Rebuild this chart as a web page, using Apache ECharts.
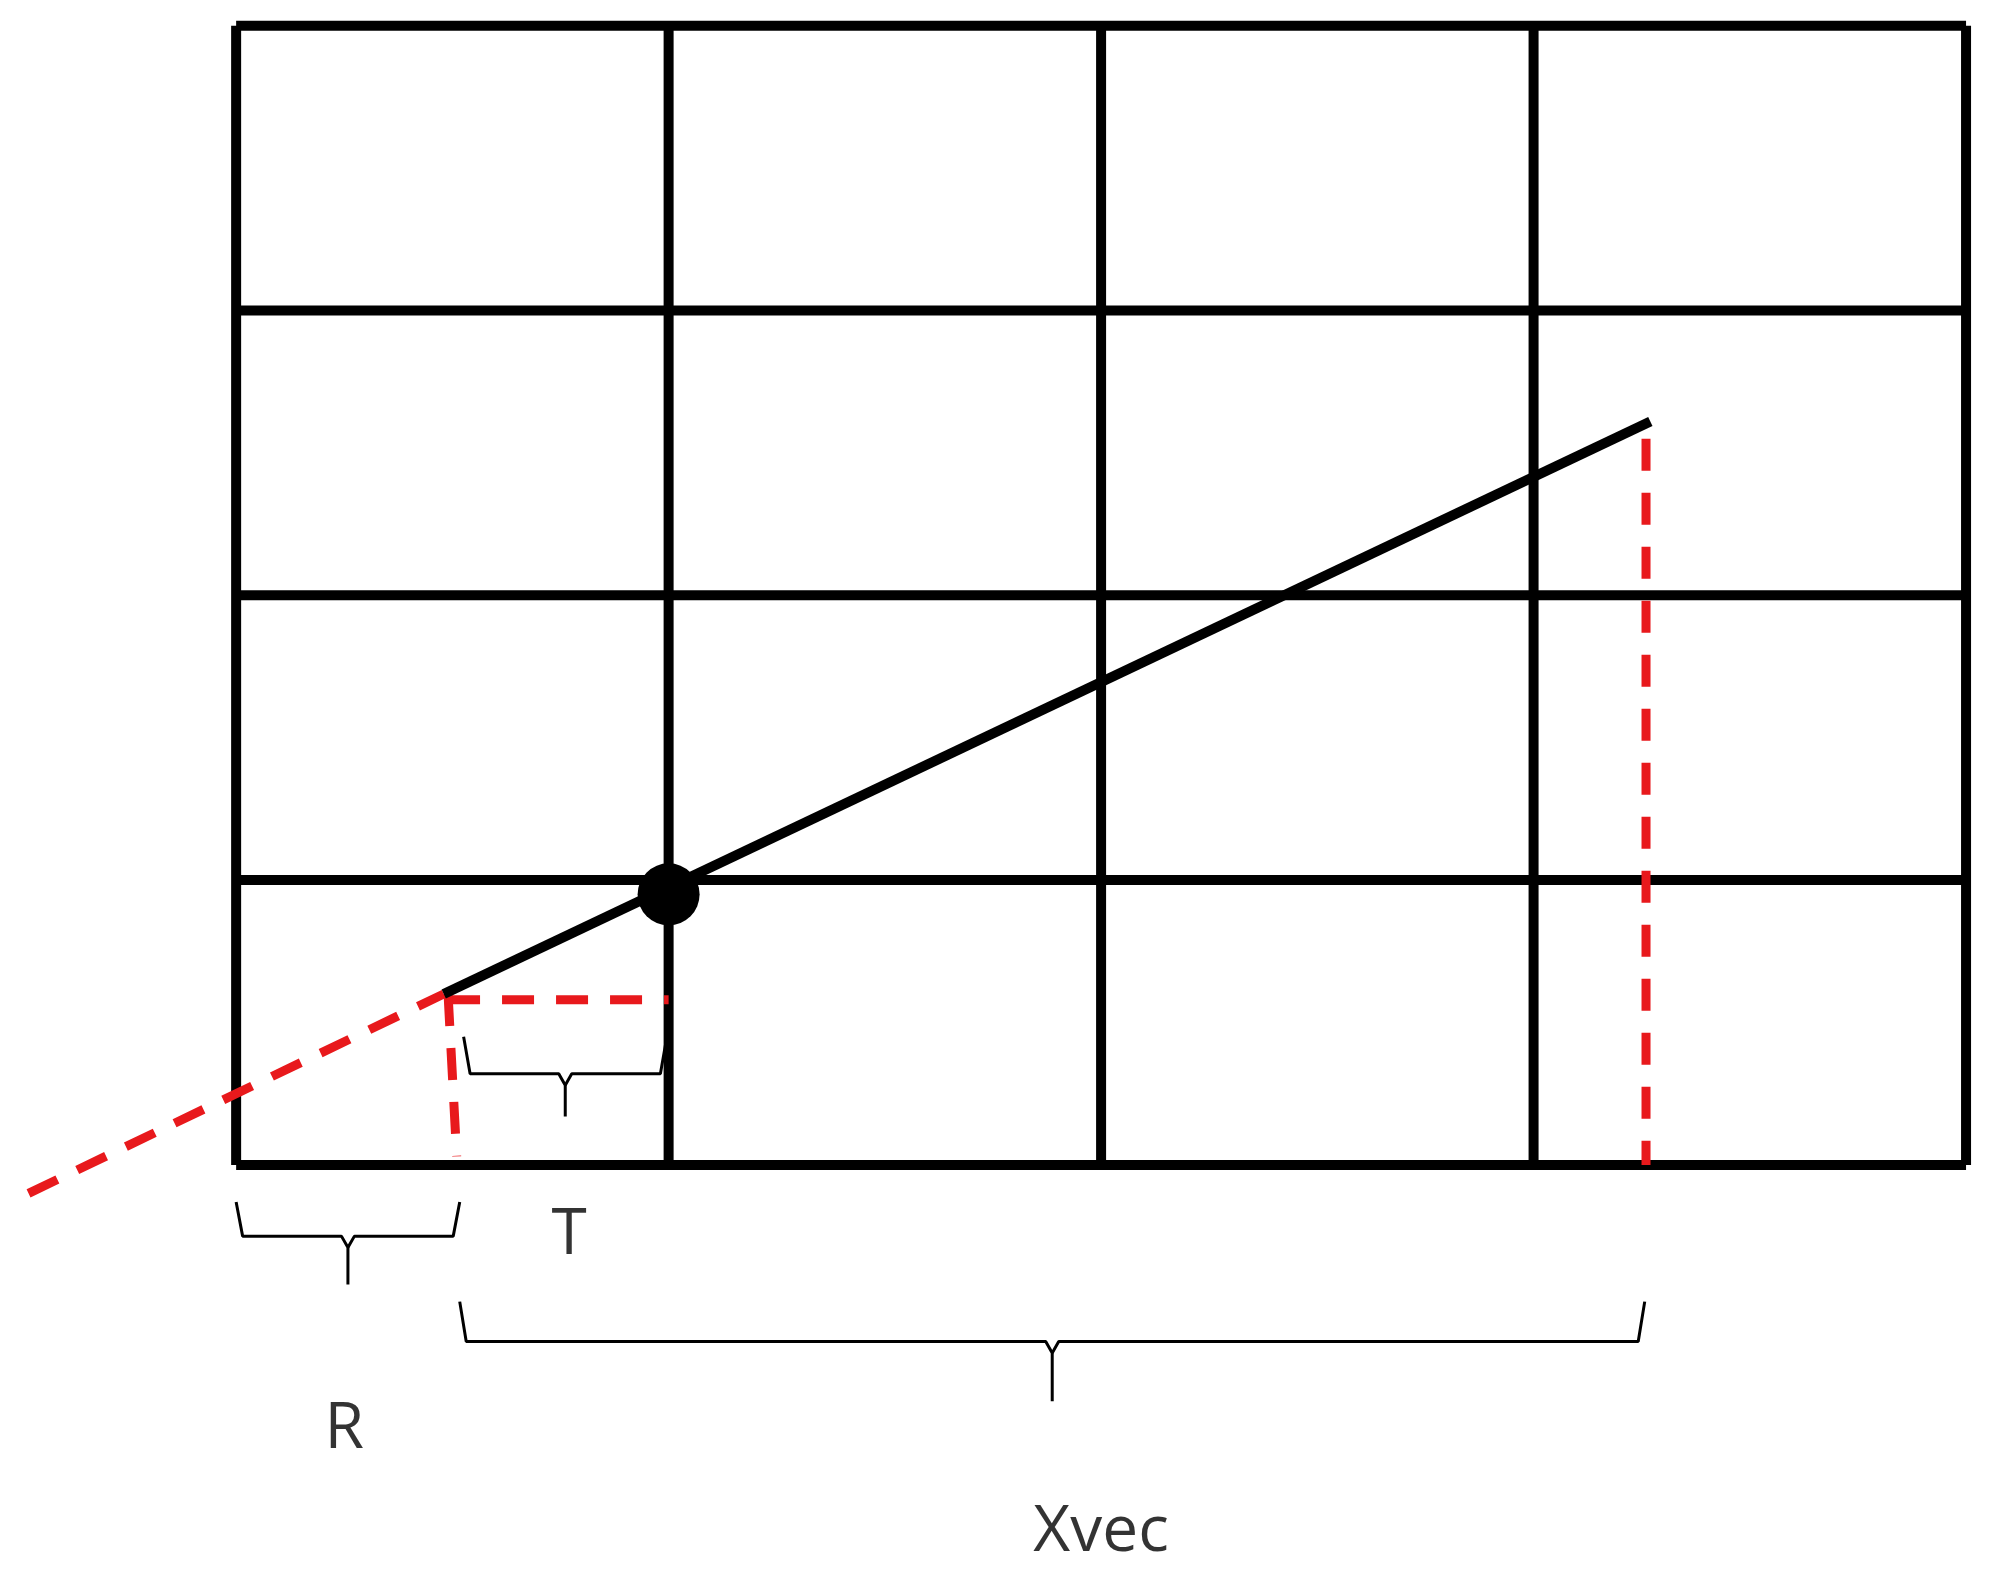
<!DOCTYPE html>
<html>
<head>
<meta charset="utf-8">
<script src="https://cdn.jsdelivr.net/npm/echarts@6/dist/echarts.min.js"></script>
<style>html,body{margin:0;padding:0;background:#fff}#c{width:1992px;height:1595px}</style>
</head>
<body>
<div id="c"></div>
<script>
// grid ticks
const xTicks = [0, 1, 2, 3, 4]
const yTicks = [0, 1, 2, 3, 4]
// main black line and its red extension
const solidLine = [[0.48, 0.60], [3.27, 2.61]]
const extLine = [[-0.48, -0.10], [0.48, 0.60]]
const dotPoint = [[1.0, 0.95]]
// red dashed guides
const guideH = [[0.49, 0.58], [1.0, 0.58]]
const guideV1 = [[0.49, 0.60], [0.51, 0.03]]
const guideV2 = [[3.26, 2.55], [3.26, 0.0]]
// braces: [x0, x1, top, line, tip]
const braces = [
	[0.0, 0.517, -0.13, -0.25, -0.42],
	[0.526, 0.996, 0.45, 0.32, 0.17],
	[0.517, 3.257, -0.48, -0.62, -0.83]
]
const labels = [['R', 0.25, -0.93], ['T', 0.77, -0.25], ['Xvec', 2.0, -1.29]]

const series = []
const seg = (data, color, width, dashed) => series.push({
	type: 'line', data, symbol: 'none', silent: true,
	lineStyle: { color, width, type: dashed ? [32, 22] : 'solid' }
})

xTicks.forEach(x => seg([[x, yTicks[0]], [x, yTicks[yTicks.length - 1]]], '#000', 10))
yTicks.forEach(y => seg([[xTicks[0], y], [xTicks[xTicks.length - 1], y]], '#000', 10))
seg(extLine, '#e8191c', 9, true)
seg(guideH, '#e8191c', 9, true)
seg(guideV1, '#e8191c', 9, true)
seg(guideV2, '#e8191c', 9, true)
seg(solidLine, '#000', 10)
series.push({ type: 'scatter', data: dotPoint, symbolSize: 62, itemStyle: { color: '#000', opacity: 1 }, z: 5 })

braces.forEach(([x0, x1, top, line, tip]) => {
	const m = (x0 + x1) / 2, r = 0.03
	seg([[x0, top], [x0 + r / 2, line], [m - r / 2, line], [m, line - 0.04], [m, tip]], '#000', 3)
	seg([[x1, top], [x1 - r / 2, line], [m + r / 2, line], [m, line - 0.04]], '#000', 3)
})

series.push({
	type: 'scatter', symbolSize: 0,
	data: labels.map(l => ({ value: [l[1], l[2]], name: l[0] })),
	label: { show: true, position: 'inside', formatter: '{b}', fontSize: 64, color: '#000', fontFamily: 'Open Sans' }
})

const chart = echarts.init(document.getElementById('c'))
chart.setOption({
	animation: false,
	grid: { left: 0, right: 0, top: 0, bottom: 0 },
	xAxis: { type: 'value', min: -0.546, max: 4.06, show: false },
	yAxis: { type: 'value', min: -1.51, max: 4.09, show: false },
	series
})
</script>
</body>
</html>
